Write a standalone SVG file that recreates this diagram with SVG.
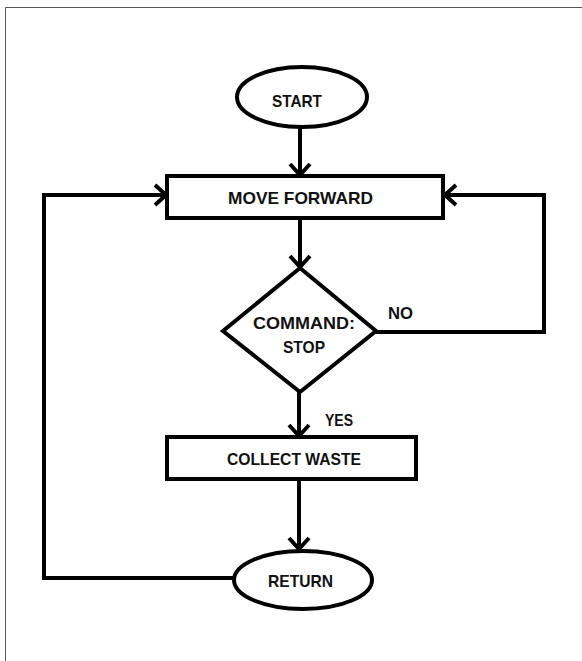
<svg xmlns="http://www.w3.org/2000/svg" width="582" height="661" viewBox="0 0 582 661">
  <style>
    .shape { fill: #fff; stroke: #000; stroke-width: 4; }
    .wire { fill: none; stroke: #000; stroke-width: 4; stroke-linejoin: miter; }
    .head { fill: none; stroke: #000; stroke-width: 4; stroke-linecap: butt; stroke-linejoin: miter; }
    .label { font-family: "Liberation Sans", Arial, sans-serif; font-weight: bold; font-size: 17px; fill: #111; }
  </style>
  <rect width="582" height="661" fill="#fff"/>
  <!-- page frame -->
  <path d="M5.5 661 V7.5 H582" fill="none" stroke="#555" stroke-width="1"/>

  <g id="connectors">
    <!-- START -> MOVE FORWARD -->
    <path class="wire" d="M300 127 V176"/>
    <path class="head" d="M290 164 L300 175 L310 164"/>
    <!-- MOVE FORWARD -> decision -->
    <path class="wire" d="M300 218 V268"/>
    <path class="head" d="M290 256 L300 267 L310 256"/>
    <!-- NO branch back to MOVE FORWARD -->
    <path class="wire" d="M376 332 H544 V195 H444"/>
    <path class="head" d="M456 185 L445 195 L456 205"/>
    <!-- YES branch -> COLLECT WASTE -->
    <path class="wire" d="M299 392 V437"/>
    <path class="head" d="M289 425 L299 436 L309 425"/>
    <!-- COLLECT WASTE -> RETURN -->
    <path class="wire" d="M299 479 V550"/>
    <path class="head" d="M289 538 L299 549 L309 538"/>
    <!-- RETURN loop back to MOVE FORWARD -->
    <path class="wire" d="M234 578 H44 V195 H167"/>
    <path class="head" d="M155 185 L166 195 L155 205"/>
    <text class="label" x="388" y="319" textLength="25" lengthAdjust="spacingAndGlyphs">NO</text>
    <text class="label" x="325" y="426" textLength="28" lengthAdjust="spacingAndGlyphs">YES</text>
  </g>

  <g id="start">
    <ellipse class="shape" cx="302" cy="97" rx="65" ry="30"/>
    <text class="label" x="272" y="107" textLength="50" lengthAdjust="spacingAndGlyphs">START</text>
  </g>

  <g id="move-forward">
    <rect class="shape" x="167" y="176" width="276" height="42"/>
    <text class="label" x="228" y="204" textLength="145" lengthAdjust="spacingAndGlyphs">MOVE FORWARD</text>
  </g>

  <g id="command-stop">
    <polygon class="shape" points="300,268 376,331 300,392 223,331"/>
    <text class="label" x="253" y="329" textLength="102" lengthAdjust="spacingAndGlyphs">COMMAND:</text>
    <text class="label" x="283" y="353" textLength="42" lengthAdjust="spacingAndGlyphs">STOP</text>
  </g>

  <g id="collect-waste">
    <rect class="shape" x="167" y="437" width="249" height="42"/>
    <text class="label" x="227" y="465" textLength="134" lengthAdjust="spacingAndGlyphs">COLLECT WASTE</text>
  </g>

  <g id="return">
    <ellipse class="shape" cx="303" cy="580" rx="69" ry="29"/>
    <text class="label" x="268" y="587" textLength="65" lengthAdjust="spacingAndGlyphs">RETURN</text>
  </g>
</svg>
